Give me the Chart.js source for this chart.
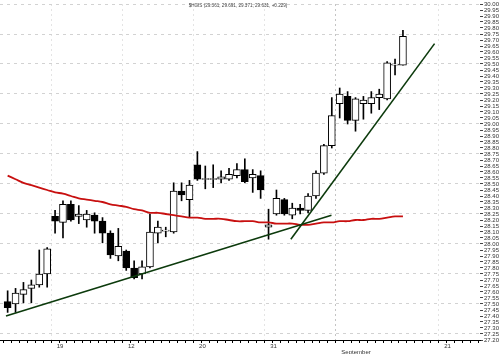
<!DOCTYPE html>
<html><head><meta charset="utf-8">
<script src="https://cdn.jsdelivr.net/npm/chart.js@4.4.1/dist/chart.umd.min.js"></script>
<style>html,body{margin:0;padding:0;background:#fff;}</style>
</head><body>
<canvas id="c" width="500" height="354"></canvas>
<script>
// Daily candles (index 1..51), prices
const openP  = [27.52,27.50,27.58,27.63,27.66,27.75,28.23,28.18,28.33,28.23,
                28.20,28.24,28.19,28.09,27.90,27.94,27.80,27.75,27.81,28.09,
                28.107,28.10,28.44,28.37,28.66,28.538,28.538,28.54,28.54,28.57,
                28.62,28.55,28.57,28.14,28.25,28.37,28.24,28.30,28.28,28.40,
                28.59,28.82,29.17,29.23,29.03,29.17,29.17,29.22,29.21,29.49,29.49];
const highP  = [27.61,27.63,27.68,27.70,27.95,27.97,28.28,28.36,28.36,28.32,
                28.28,28.26,28.22,28.11,28.13,27.95,27.86,27.86,28.25,28.19,
                28.14,28.51,28.51,28.53,28.77,28.65,28.66,28.61,28.63,28.67,
                28.71,28.62,28.61,28.29,28.45,28.38,28.34,28.33,28.42,28.61,
                28.83,29.22,29.30,29.27,29.22,29.23,29.27,29.29,29.52,29.54,29.78];
const lowP   = [27.43,27.43,27.51,27.51,27.64,27.64,28.09,28.05,28.19,28.17,
                28.14,28.09,28.01,27.88,27.86,27.78,27.71,27.71,27.80,28.01,
                28.06,28.09,28.36,28.22,28.53,28.46,28.47,28.51,28.53,28.55,
                28.51,28.43,28.38,28.04,28.24,28.24,28.21,28.25,28.26,28.38,
                28.58,28.80,29.05,29.00,28.94,29.04,29.09,29.12,29.20,29.41,29.49];
const closeP = [27.47,27.59,27.62,27.66,27.75,27.96,28.19,28.33,28.20,28.25,
                28.25,28.19,28.09,27.91,27.98,27.80,27.72,27.81,28.10,28.14,
                28.115,28.44,28.41,28.49,28.54,28.546,28.546,28.56,28.58,28.62,
                28.52,28.58,28.45,28.16,28.38,28.25,28.30,28.28,28.40,28.59,
                28.82,29.07,29.25,29.03,29.21,29.20,29.22,29.25,29.51,29.50,29.73];
// Moving average (red)
const movingAvg = [28.57,28.54,28.51,28.49,28.47,28.45,28.43,28.42,28.40,28.38,
                   28.37,28.36,28.35,28.33,28.32,28.31,28.29,28.28,28.26,28.26,
                   28.25,28.24,28.23,28.22,28.22,28.21,28.21,28.21,28.20,28.19,
                   28.19,28.19,28.18,28.18,28.17,28.17,28.17,28.16,28.16,28.17,
                   28.18,28.18,28.19,28.19,28.20,28.20,28.21,28.21,28.22,28.23,28.23];
// Hand-drawn trend lines: [index, price] end points
const trendLow   = [[0.79, 27.40], [41.96, 28.24]];
const trendSteep = [[36.82, 28.04], [55.0, 29.67]];
// Axis labels
const dayLabels   = {7: '19', 16: '12', 25: '20', 34: '31', 56: '21'};
const monthLabels = {43: 'September'};
const titleText = '$HGIS (29.361, 29.691, 29.371, 29.631, +0.229)';

const idx = openP.map((_, i) => i + 1);

const titlePlugin = {
  id: 'topTitle',
  afterDraw(chart) {
    const ctx = chart.ctx;
    ctx.save();
    ctx.font = '4.6px "Liberation Sans Narrow", "Liberation Sans", sans-serif';
    ctx.fillStyle = '#444';
    ctx.textAlign = 'center';
    ctx.textBaseline = 'middle';
    ctx.fillText(titleText, 238, 5.5);
    ctx.restore();
  }
};

new Chart(document.getElementById('c'), {
  type: 'bar',
  data: {
    datasets: [
      {
        type: 'bar', label: 'range',
        data: idx.map((x, i) => ({x, y: [lowP[i], highP[i]]})),
        backgroundColor: '#000', borderWidth: 0,
        barThickness: 1, grouped: false, order: 3
      },
      {
        type: 'bar', label: 'body',
        data: idx.map((x, i) => ({x, y: [openP[i], closeP[i]]})),
        backgroundColor: (c) => {
          const i = c.dataIndex;
          return closeP[i] < openP[i] ? '#000' : '#fff';
        },
        borderColor: '#000', borderWidth: 1, borderSkipped: false,
        barThickness: 7, grouped: false, order: 2
      },
      {
        type: 'line', label: 'MA',
        data: idx.map((x, i) => ({x, y: movingAvg[i]})),
        borderColor: '#c81010', borderWidth: 1.8, pointRadius: 0,
        tension: 0.4, order: 1
      },
      {
        type: 'line', label: 'trend1',
        data: trendLow.map(p => ({x: p[0], y: p[1]})),
        borderColor: '#0c3a0c', borderWidth: 1.6, pointRadius: 0, order: 0
      },
      {
        type: 'line', label: 'trend2',
        data: trendSteep.map(p => ({x: p[0], y: p[1]})),
        borderColor: '#0c3a0c', borderWidth: 1.6, pointRadius: 0, order: 0
      }
    ]
  },
  options: {
    responsive: false, animation: false, devicePixelRatio: 1,
    layout: {padding: {top: 2, left: 0, right: 0, bottom: 0}},
    plugins: {legend: {display: false}, tooltip: {enabled: false}, title: {display: false}},
    scales: {
      x: {
        type: 'linear', min: 0.54, max: 60.24,
        afterBuildTicks: (s) => {
          const t = [];
          for (let k = 1; k <= 60; k++) t.push({value: k});
          s.ticks = t;
        },
        afterFit: (s) => { s.height = 14; },
        grid: {
          color: (c) => {
            const v = c.tick && c.tick.value;
            if (monthLabels[v]) return '#c4c4c4';
            if (dayLabels[v]) return '#e4e4e4';
            return 'rgba(0,0,0,0)';
          },
          tickColor: '#000', tickLength: 3, lineWidth: 1
        },
        border: {display: true, color: '#000', width: 1, dash: [2, 3]},
        ticks: {
          autoSkip: false, maxRotation: 0, align: 'start', padding: 0,
          color: '#333',
          font: {family: '"Liberation Sans Narrow", "Liberation Sans", sans-serif', size: 6, lineHeight: 1},
          callback: (v) => {
            if (dayLabels[v]) return [' ' + dayLabels[v]];
            if (monthLabels[v]) return ['', ' ' + monthLabels[v]];
            return '';
          }
        }
      },
      y: {
        position: 'right', min: 27.2, max: 30.0,
        afterFit: (s) => { s.width = 20; },
        grid: {
          color: (c) => {
            const v = c.tick ? c.tick.value : 0;
            return Math.abs(v * 4 - Math.round(v * 4)) < 1e-6 ? '#d2d2d2' : 'rgba(0,0,0,0)';
          },
          tickColor: '#444', tickLength: 3, lineWidth: 1
        },
        border: {display: false, dash: [3, 4]},
        ticks: {
          stepSize: 0.05, autoSkip: false, padding: 1, color: '#333',
          font: {family: '"Liberation Sans Narrow", "Liberation Sans", sans-serif', size: 6, lineHeight: 1},
          callback: (v) => Number(v).toFixed(2)
        }
      }
    }
  },
  plugins: [titlePlugin]
});
</script>
</body></html>
